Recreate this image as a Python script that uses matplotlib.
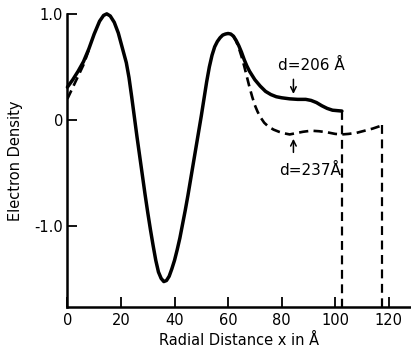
import matplotlib
matplotlib.use('Agg')
import matplotlib.pyplot as plt

# solid curve, d = 206 A
x_206 = [0, 2, 4, 6, 8, 10, 12, 13.5, 14.7, 16, 17.5, 19, 20.5, 22, 23, 24, 25, 26,
         27, 28, 29, 30, 31, 32, 33, 34, 35, 36, 37, 38, 39, 40, 41, 42, 43, 44, 45,
         46, 47, 48, 49, 50, 51, 52, 53, 54, 55, 56, 57, 58, 59, 60, 61, 62, 63, 64,
         65, 66, 67, 68, 69, 70, 72, 74, 76, 78, 80, 83, 86, 89, 91, 93, 95, 97, 99,
         102.5]
y_206 = [0.31, 0.38, 0.46, 0.55, 0.67, 0.81, 0.93, 0.985, 1.0, 0.98, 0.92, 0.82, 0.68,
         0.54, 0.40, 0.22, 0.03, -0.16, -0.34, -0.52, -0.70, -0.87, -1.03, -1.18, -1.32,
         -1.43, -1.49, -1.52, -1.51, -1.47, -1.40, -1.32, -1.22, -1.11, -0.98, -0.85,
         -0.71, -0.56, -0.41, -0.26, -0.11, 0.04, 0.20, 0.36, 0.50, 0.61, 0.69, 0.74,
         0.775, 0.80, 0.81, 0.815, 0.81, 0.79, 0.75, 0.70, 0.64, 0.57, 0.51, 0.46, 0.42,
         0.38, 0.32, 0.27, 0.24, 0.22, 0.21, 0.20, 0.195, 0.195, 0.185, 0.165, 0.135,
         0.11, 0.093, 0.085]

# dashed curve, d = 237 A (only where it leaves the solid one)
x_237_in = [0, 1.5, 3, 4.5, 6, 8]
y_237_in = [0.2, 0.28, 0.36, 0.44, 0.52, 0.66]
x_237_out = [62, 63, 64, 65, 66, 67, 68, 69, 70, 71, 72, 73.5, 75, 77, 79, 81, 83, 85,
             88, 91, 94, 97, 100, 102.5, 105, 108, 111, 114, 117.5]
y_237_out = [0.79, 0.745, 0.68, 0.60, 0.51, 0.41, 0.31, 0.22, 0.14, 0.08, 0.03, -0.025,
             -0.06, -0.09, -0.11, -0.125, -0.135, -0.125, -0.11, -0.10, -0.105, -0.115,
             -0.13, -0.135, -0.13, -0.12, -0.10, -0.08, -0.05]

x_ticks = [0, 20, 40, 60, 80, 100, 120]
y_ticks = [-1.0, 0, 1.0]
y_tick_labels = ['-1.0', '0', '1.0']

fig = plt.figure(figsize=(4.11, 3.55), dpi=100)
ax = fig.add_axes([0.164, 0.135, 0.834, 0.826])

ax.plot(x_206, y_206, color='black', lw=2.5, solid_capstyle='round',
        solid_joinstyle='round', zorder=3, clip_on=False)
ax.plot([x_206[-1], x_206[-1]], [y_206[-1], -1.76], color='black', lw=1.6,
        ls=(0, (4, 2.5)))

dash = (0, (3.5, 2))
ax.plot(x_237_in, y_237_in, color='black', lw=1.9, ls=dash)
ax.plot(x_237_out, y_237_out, color='black', lw=1.9, ls=dash)
ax.plot([x_237_out[-1], x_237_out[-1]], [y_237_out[-1], -1.76], color='black',
        lw=1.6, ls=(0, (4, 2.5)))

ax.annotate('', xy=(84.4, 0.22), xytext=(84.4, 0.41),
            arrowprops=dict(arrowstyle='->', color='black', lw=1.1))
ax.annotate('', xy=(84.4, -0.15), xytext=(84.4, -0.33),
            arrowprops=dict(arrowstyle='->', color='black', lw=1.1))
ax.text(91, 0.51, 'd=206 Å', ha='center', va='center', fontsize=11)
ax.text(90.8, -0.47, 'd=237Å', ha='center', va='center', fontsize=11)

ax.set_xlim(0, 128)
ax.set_ylim(-1.76, 1.0)
ax.set_xticks(x_ticks)
ax.set_yticks(y_ticks)
ax.set_yticklabels(y_tick_labels)
ax.tick_params(direction='in', length=7, width=1.3, labelsize=10.5, pad=4)
ax.tick_params(axis='y', pad=3)

for side in ['top', 'right']:
    ax.spines[side].set_visible(False)
for side in ['left', 'bottom']:
    ax.spines[side].set_linewidth(1.8)

ax.set_xlabel('Radial Distance x in Å', fontsize=10.5, labelpad=4)
ax.set_ylabel('Electron Density', fontsize=10.5, labelpad=8)

fig.savefig('out.png', dpi=100)
